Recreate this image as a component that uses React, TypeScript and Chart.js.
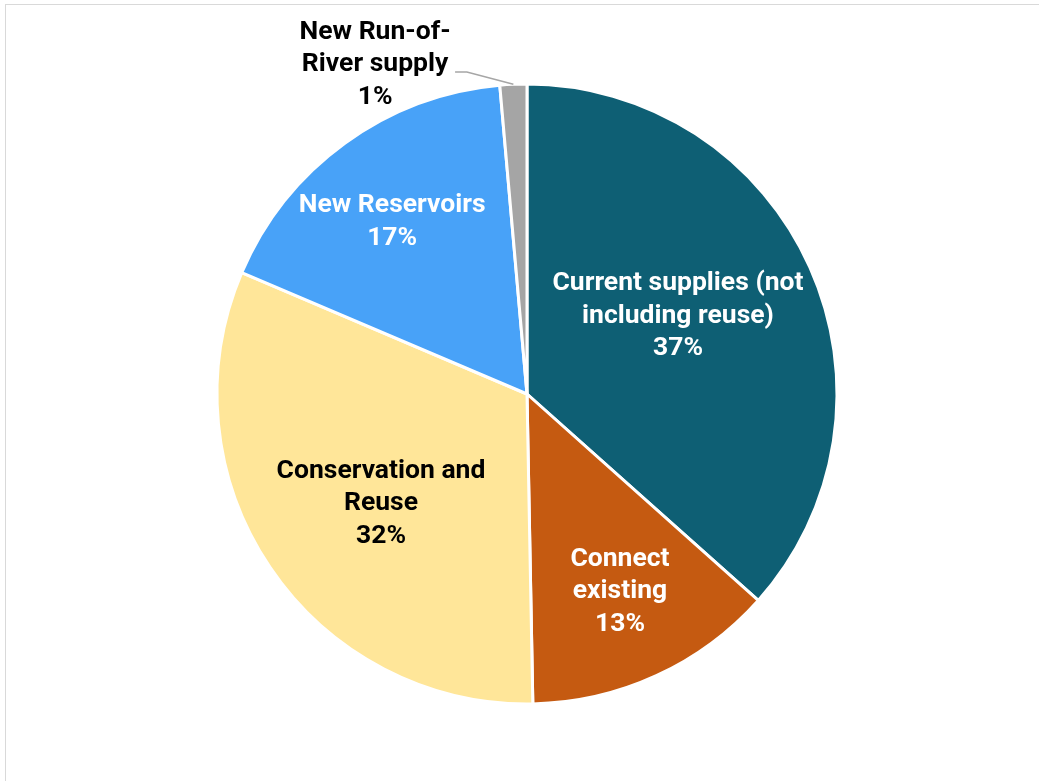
import React, { useEffect, useRef } from "react";
import { Chart, registerables } from "chart.js";

Chart.register(...registerables);

const categories = [
  "Current supplies (not including reuse)",
  "Connect existing",
  "Conservation and Reuse",
  "New Reservoirs",
  "New Run-of-River supply",
];
const values = [36.6, 13.1, 31.7, 17.2, 1.4];
const percentLabels = ["37%", "13%", "32%", "17%", "1%"];
const labelLines = [
  ["Current supplies (not", "including reuse)"],
  ["Connect", "existing"],
  ["Conservation and", "Reuse"],
  ["New Reservoirs"],
  ["New Run-of-", "River supply"],
];
const colors = ["#0E5F74", "#C55A11", "#FFE699", "#48A2F8", "#A5A5A5"];
const textColors = ["#FFFFFF", "#FFFFFF", "#000000", "#FFFFFF", "#000000"];
// label block centres relative to pie centre, in units of radius
const labelOffsets = [
  [0.487, -0.252],
  [0.3, 0.638],
  [-0.471, 0.354],
  [-0.435, -0.555],
  [-0.49, -1.062],
];

const labelPlugin = {
  id: "sliceLabels",
  afterDatasetsDraw(chart: any) {
    const ctx = chart.ctx;
    const meta = chart.getDatasetMeta(0);
    const first = meta.data[0];
    if (!first) return;
    const cx = first.x;
    const cy = first.y;
    const r = first.outerRadius;
    ctx.save();
    ctx.font = "bold 26.5px Roboto";
    ctx.textAlign = "center";
    ctx.textBaseline = "middle";
    const lh = 32.5;
    meta.data.forEach((arc: any, i: number) => {
      const lines = [...labelLines[i], percentLabels[i]];
      const bx = cx + labelOffsets[i][0] * r;
      const by = cy + labelOffsets[i][1] * r;
      ctx.fillStyle = textColors[i];
      const start = by - ((lines.length - 1) * lh) / 2;
      lines.forEach((t: string, k: number) => {
        ctx.fillText(t, bx, start + k * lh);
      });
    });
    // leader line for the small slice
    const small = meta.data[4];
    const mid = (small.startAngle + small.endAngle) / 2;
    const ex = cx + Math.cos(mid) * small.outerRadius;
    const ey = cy + Math.sin(mid) * small.outerRadius;
    ctx.strokeStyle = "#A6A6A6";
    ctx.lineWidth = 1.5;
    ctx.beginPath();
    ctx.moveTo(cx - 0.232 * r, cy - 1.039 * r);
    ctx.lineTo(cx - 0.194 * r, cy - 1.039 * r);
    ctx.lineTo(ex, ey);
    ctx.stroke();
    ctx.restore();
  },
};

export default function App() {
  const ref = useRef<HTMLCanvasElement | null>(null);
  useEffect(() => {
    if (!ref.current) return;
    const chart = new Chart(ref.current, {
      type: "pie",
      data: {
        labels: categories,
        datasets: [
          {
            data: values,
            backgroundColor: colors,
            borderColor: "#FFFFFF",
            borderWidth: 3,
          },
        ],
      },
      options: {
        animation: false,
        responsive: false,
        maintainAspectRatio: false,
        devicePixelRatio: 1,
        layout: { padding: { left: 215.5, top: 82.5, right: 200.5, bottom: 75.5 } },
        plugins: {
          legend: { display: false },
          tooltip: { enabled: false },
          title: { display: false },
        },
      },
      plugins: [labelPlugin],
    });
    return () => chart.destroy();
  }, []);
  return (
    <div style={{ position: "absolute", left: 0, top: 0, width: 1039, height: 781, overflow: "hidden", background: "#fff" }}>
      <div
        style={{
          position: "absolute",
          left: 5,
          top: 4,
          width: 1100,
          height: 900,
          border: "1.5px solid #D9D9D9",
        }}
      />
      <canvas ref={ref} width={1039} height={781} style={{ position: "absolute", left: 0, top: 0, width: 1039, height: 781 }} />
    </div>
  );
}
